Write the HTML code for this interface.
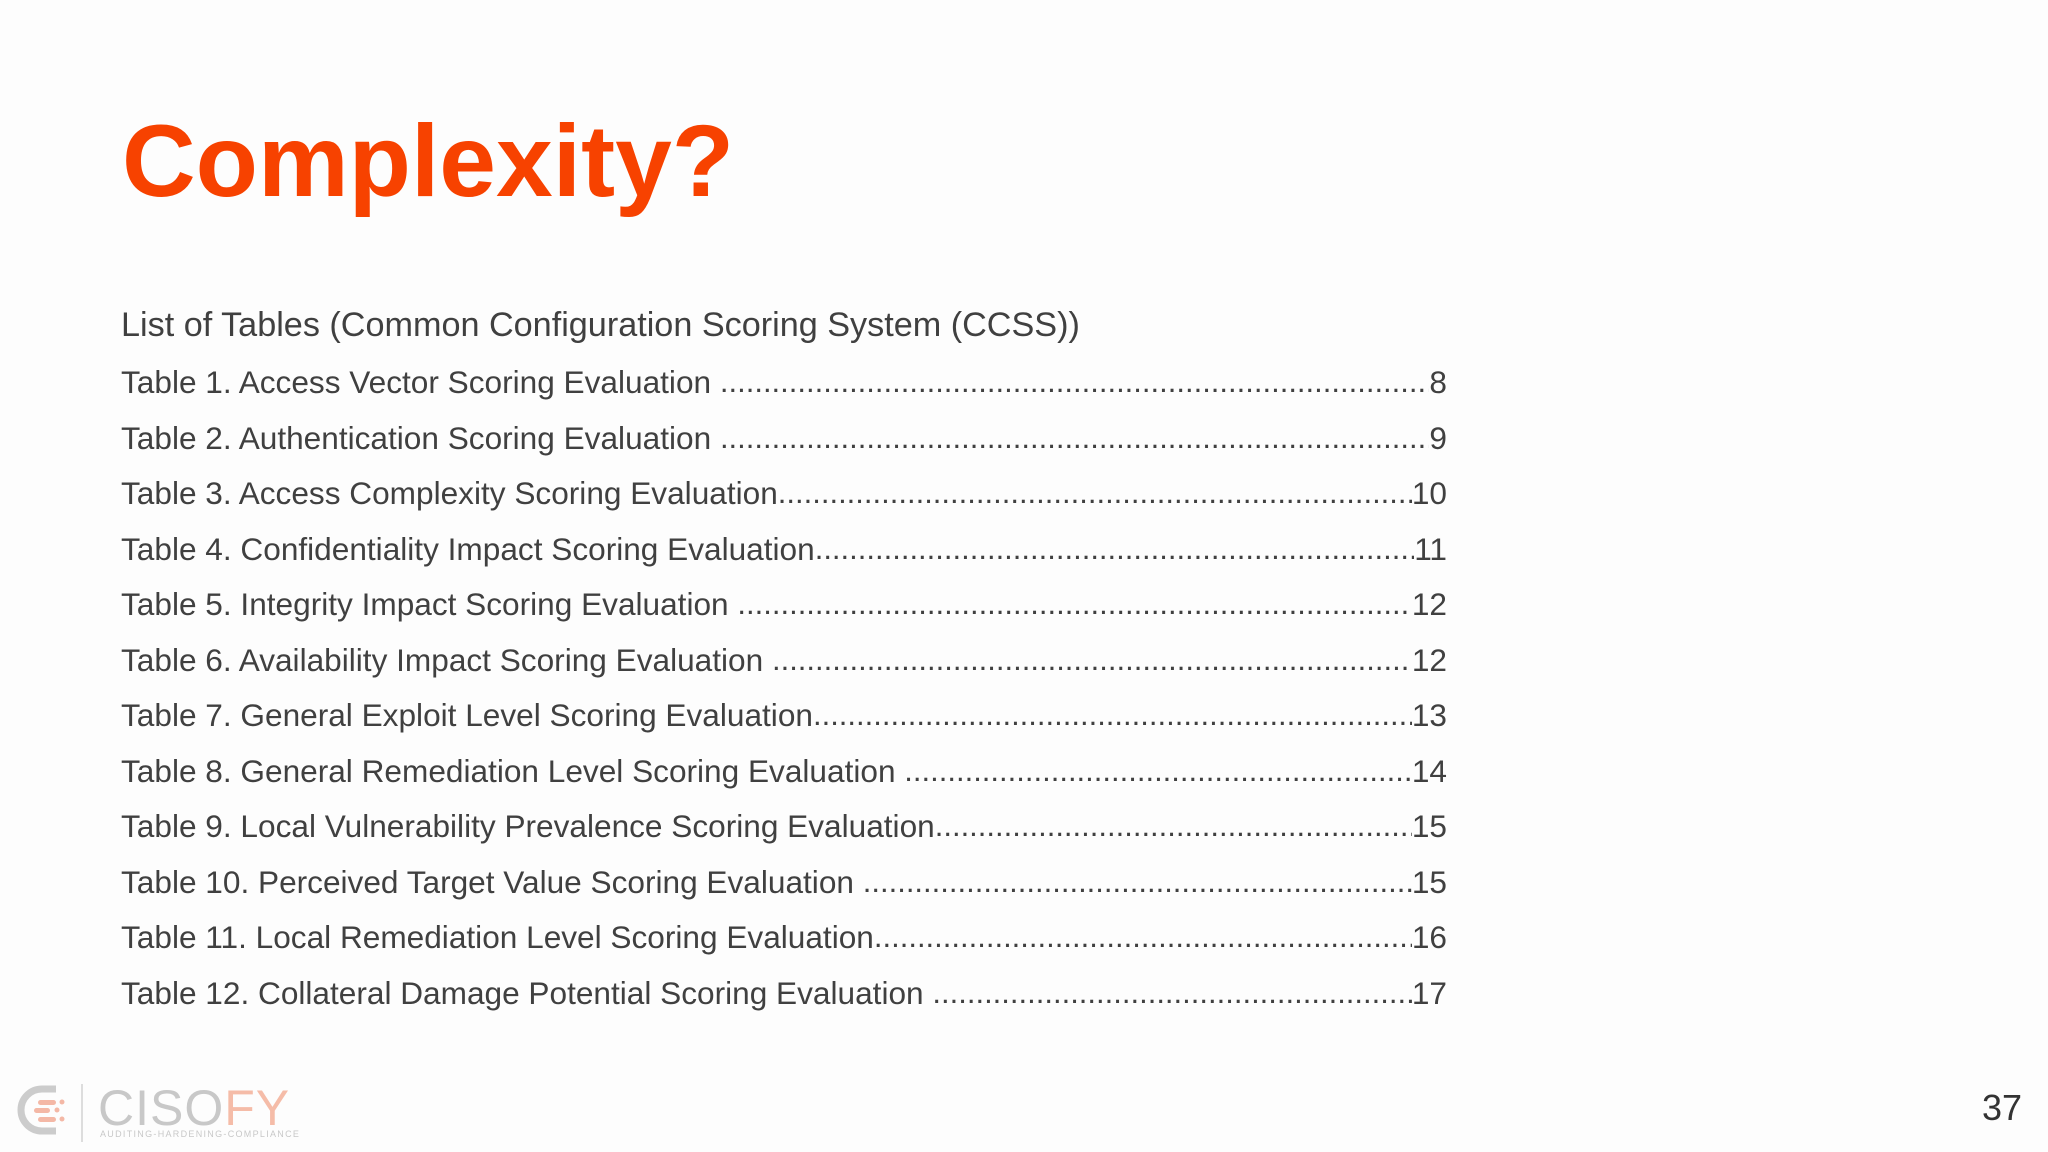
<!DOCTYPE html>
<html><head><meta charset="utf-8"><style>
html,body{margin:0;padding:0}
body{width:2048px;height:1152px;background:#fdfdfd;position:relative;overflow:hidden;font-family:"Liberation Sans",Arial,sans-serif;color:#404040}
#title{position:absolute;left:122px;top:110px;font-size:102px;font-weight:bold;color:#f74200;line-height:1;letter-spacing:0px}
#heading{position:absolute;left:121px;top:305px;font-size:34.2px;line-height:40px;white-space:nowrap}
.row{position:absolute;left:121px;width:1326px;height:40px;font-size:31.6px;line-height:40px;display:flex;white-space:nowrap}
.row .lbl{flex:none}
.row .dots{flex:1;overflow:hidden;white-space:nowrap;font-size:31px}
.row .pg{flex:none}
#pagenum{position:absolute;left:1982px;top:1088px;font-size:36px;color:#333;line-height:40px}
</style></head><body>
<div id="title">Complexity?</div>
<div id="heading">List of Tables (Common Configuration Scoring System (CCSS))</div>
<div id="rows"></div>
<div id="pagenum">37</div>
<svg style="position:absolute;left:10px;top:1080px" width="300" height="64">
<path d="M46 9 H32 A20 20 0 0 0 32 51 H46" fill="none" stroke="#ccc" stroke-width="7"/>
<rect x="28" y="20" width="18" height="5" rx="2.5" fill="#f4b8a6"/><circle cx="52" cy="22" r="2.5" fill="#f4b8a6"/>
<rect x="24" y="28" width="16" height="5" rx="2.5" fill="#f4b8a6"/><circle cx="47" cy="30" r="2.5" fill="#f4b8a6"/>
<rect x="28" y="37" width="18" height="5" rx="2.5" fill="#f4b8a6"/><circle cx="52" cy="39" r="2.5" fill="#f4b8a6"/>
<line x1="72" y1="4" x2="72" y2="62" stroke="#ddd" stroke-width="2"/>
<text x="88" y="45" font-family="Liberation Sans,sans-serif" font-size="50" fill="#c8c8c8" letter-spacing="1">CISO<tspan fill="#f5bca8">FY</tspan></text>
<text x="90" y="57" font-family="Liberation Sans,sans-serif" font-size="9" fill="#c8c8c8" letter-spacing="1.3">AUDITING-HARDENING-COMPLIANCE</text>
</svg>
<script>
const labels=["Table 1. Access Vector Scoring Evaluation ","Table 2. Authentication Scoring Evaluation ","Table 3. Access Complexity Scoring Evaluation","Table 4. Confidentiality Impact Scoring Evaluation","Table 5. Integrity Impact Scoring Evaluation ","Table 6. Availability Impact Scoring Evaluation ","Table 7. General Exploit Level Scoring Evaluation","Table 8. General Remediation Level Scoring Evaluation ","Table 9. Local Vulnerability Prevalence Scoring Evaluation","Table 10. Perceived Target Value Scoring Evaluation ","Table 11. Local Remediation Level Scoring Evaluation","Table 12. Collateral Damage Potential Scoring Evaluation "];
const pages=["8","9","10","11","12","12","13","14","15","15","16","17"];
const wrap=document.getElementById('rows');
labels.forEach((l,i)=>{
 const r=document.createElement('div');
 r.className='row';
 r.style.top=(362+i*55.5)+'px';
 
 
 const a=document.createElement('span');a.className='lbl';a.textContent=l.replace(/ $/,'\u00a0');
 const d=document.createElement('span');d.className='dots';d.textContent='.'.repeat(200);
 const p=document.createElement('span');p.className='pg';p.textContent=pages[i];
 r.appendChild(a);r.appendChild(d);r.appendChild(p);wrap.appendChild(r);
});
</script>
</body></html>
